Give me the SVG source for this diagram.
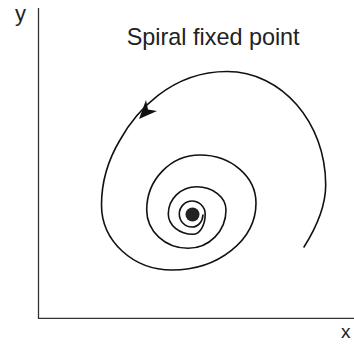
<svg xmlns="http://www.w3.org/2000/svg" width="354" height="344" viewBox="0 0 354 344">
<style>
.axis{stroke:#333;stroke-width:1.3;fill:none}
.curve{stroke:#111;stroke-width:1.6;fill:none;stroke-linecap:round}
.lbl{font-family:"Liberation Sans",Arial,sans-serif;fill:#222}
</style>
<rect width="354" height="344" fill="#fff"/>
<g id="axes">
<line class="axis" x1="38.5" y1="8" x2="38.5" y2="318.5"/>
<line class="axis" x1="38" y1="318.3" x2="354" y2="318.3"/>
</g>
<text class="lbl" x="15" y="20.5" font-size="22">y</text>
<text class="lbl" x="341" y="338" font-size="19">x</text>
<text class="lbl" x="126.7" y="44.5" font-size="23.4">Spiral fixed point</text>
<g id="connectors">
<path class="curve" d="M304 247 C316 228 325.7 207 325.7 185 C325.7 122.3 281.5 71.5 227 71.5 C170 71.5 135 113 120 140 C108 160 101.5 180 101.5 205 C101.5 241 133 270 172 270 C218.4 270 256 240 256 203 C256 176.5 231 155 200 155 C170.6 155 146.7 179.6 146.7 210 C146.7 231.2 165.2 248.3 188 248.3 C209 248.3 226 231.2 226 210 C226 197.1 212.9 186.7 196.7 186.7 C181 186.7 168.3 198.9 168.3 214 C168.3 225.2 179.4 234.3 193 234.3 C199.9 234.3 205.2 225.2 205.2 214 C205.2 206.8 199 201 192 201 C185 201 179.3 207 179.3 214 C179.3 221.2 185 227 192 227 C198 227 202.5 222 203 215"/>
<polygon points="139,119 146,100 148,109.5 157,111" fill="#111"/>
</g>
<g id="fixed-point">
<circle cx="192.5" cy="214.5" r="7" fill="#222"/>
</g>
</svg>
